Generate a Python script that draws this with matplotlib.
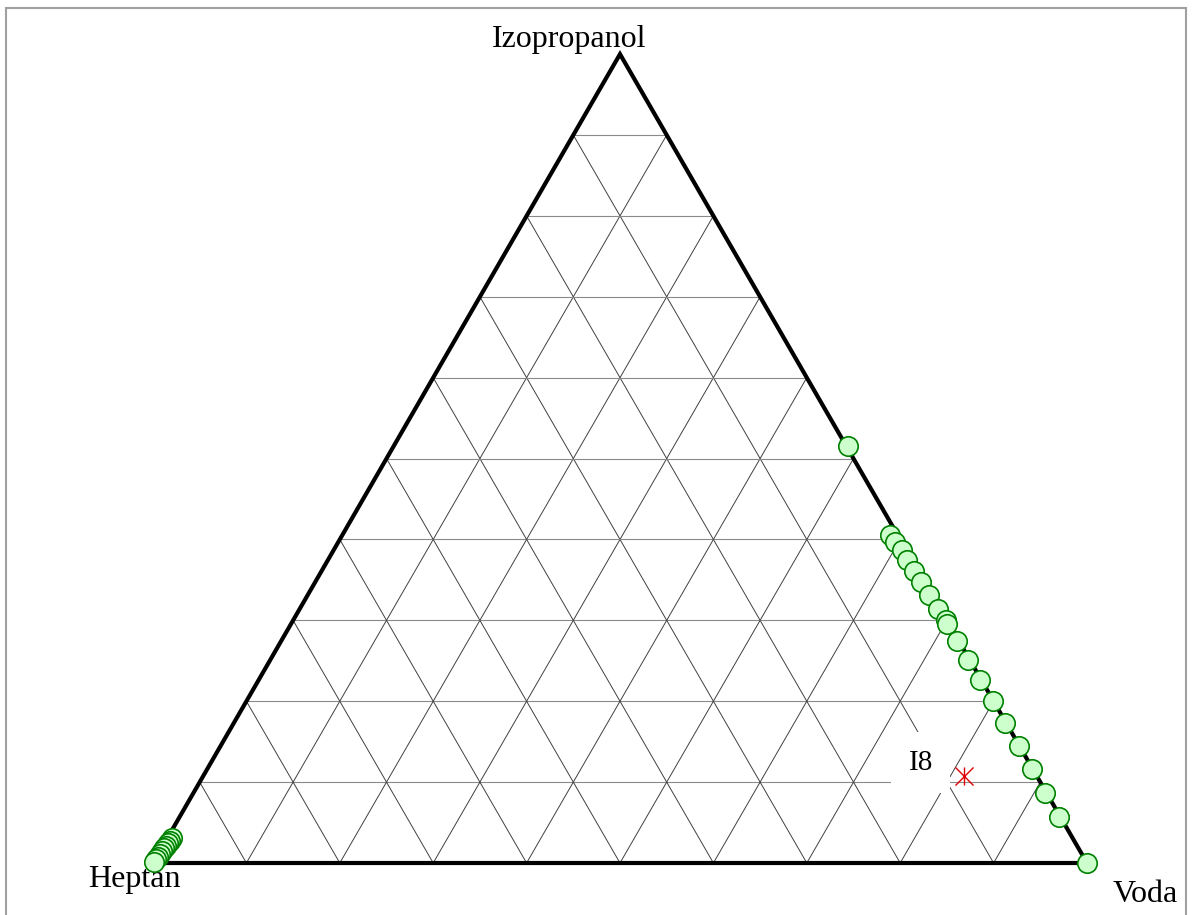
import matplotlib.pyplot as plt
import numpy as np
from matplotlib.path import Path
from matplotlib.patches import Rectangle

# components (percent), heptan = 100 - voda - izopropanol
labels = ['Heptan', 'Voda', 'Izopropanol']

# water rich phase (voda %, izopropanol %)
voda_w = [48.7, 58.6, 59.6, 60.8, 62.0, 63.4, 64.9, 66.5, 68.3, 69.9, 70.3,
          72.4, 74.7, 77.2, 79.9, 82.6, 85.5, 88.3, 91.2, 94.2, 100.0]
izo_w = [51.5, 40.6, 39.7, 38.7, 37.5, 36.1, 34.7, 33.1, 31.4, 30.1, 29.5,
         27.4, 25.1, 22.6, 20.0, 17.3, 14.5, 11.6, 8.7, 5.7, 0.0]

# heptan rich phase (voda %, izopropanol %)
voda_h = [0.47, 0.44, 0.40, 0.36, 0.32, 0.28, 0.23, 0.18, 0.10, 0.0]
izo_h = [3.05, 2.75, 2.45, 2.15, 1.80, 1.45, 1.10, 0.75, 0.45, 0.16]

# point I8
i8_name = 'I8'
i8_voda = [81.4]
i8_izo = [10.8]

ticks = np.arange(10, 100, 10)


def tern(voda, izo):
    """ternary -> cartesian, heptan (0,0), voda (1,0), izopropanol on top"""
    v = np.asarray(voda) / 100.0
    i = np.asarray(izo) / 100.0
    return v + i / 2.0, i * np.sqrt(3) / 2.0


fig = plt.figure(figsize=(11.92, 9.15), dpi=100)
ax = fig.add_axes([0, 0, 1, 1])
ax.set_xlim(-153 / 934, 1039 / 934)
ax.set_ylim(-52 / 934, 863 / 934)
ax.axis('off')

fig.patches.append(Rectangle((5.5 / 1192, -0.05), 1180.5 / 1192, 1.05 - 8 / 915,
                             transform=fig.transFigure, fill=False,
                             ec='#a0a0a0', lw=1.5))

# grid
for t in ticks:
    # izopropanol constant
    x, y = tern([0, 100 - t], [t, t])
    ax.plot(x, y, color='#8a8a8a', lw=0.8, zorder=1)
    # voda constant
    x, y = tern([t, t], [0, 100 - t])
    ax.plot(x, y, color='#404040', lw=0.7, zorder=1)
    # heptan constant
    x, y = tern([100 - t, 0], [0, 100 - t])
    ax.plot(x, y, color='#404040', lw=0.7, zorder=1)

# frame
x, y = tern([0, 100, 0, 0], [0, 0, 100, 0])
ax.plot(x, y, color='black', lw=3, solid_joinstyle='miter', zorder=2)

kw = dict(family='Liberation Serif', fontsize=23)
x, y = tern([0], [100])
ax.text(x[0] - 51 / 934, y[0] + 7 / 934, labels[2], ha='center', va='baseline', **kw)
x, y = tern([0], [0])
ax.text(x[0] - 65 / 934, y[0] - 24 / 934, labels[0], ha='left', va='baseline', **kw)
x, y = tern([100], [0])
ax.text(x[0] + 26 / 934, y[0] - 39 / 934, labels[1], ha='left', va='baseline', **kw)

# data points
mk = dict(marker='o', ms=14, mfc='#ccffcc', mec='#008000', mew=1.2, ls='none', zorder=4)
for v, i in zip(voda_w, izo_w):
    ax.plot(*tern([v], [i]), **mk)
for v, i in zip(voda_h, izo_h):
    ax.plot(*tern([v], [i]), **mk)

star = Path([(0, -1), (0, 1), (-1, -1), (1, 1), (-1, 1), (1, -1)],
            [Path.MOVETO, Path.LINETO, Path.MOVETO, Path.LINETO, Path.MOVETO, Path.LINETO])
x, y = tern(i8_voda, i8_izo)
ax.plot(x, y, marker=star, ms=13, mec='#e00000', mew=1.0, ls='none', zorder=5)
ax.text(x[0] - 43 / 934, y[0] + 6 / 934, i8_name, ha='center', va='baseline',
        family='Liberation Serif', fontsize=21, zorder=3,
        bbox=dict(boxstyle='square,pad=0.6', fc='white', ec='none'))

fig.savefig('out.png', dpi=100)
